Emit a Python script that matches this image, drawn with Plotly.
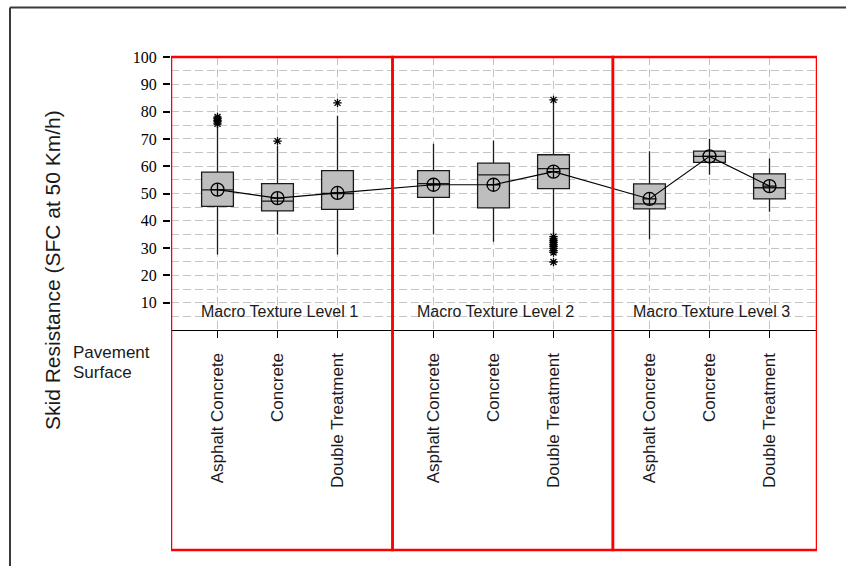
import plotly.graph_objects as go

# ---- data -------------------------------------------------------------
groups = ["Macro Texture Level 1", "Macro Texture Level 2", "Macro Texture Level 3"]
surfaces = ["Asphalt Concrete", "Concrete", "Double Treatment"]

q1 = [45.3, 43.6, 44.2, 48.6, 44.7, 51.8, 44.4, 61.4, 48.0]
median = [51.3, 47.2, 50.0, 53.6, 56.8, 59.1, 46.2, 63.6, 52.1]
q3 = [57.8, 53.6, 58.4, 58.4, 61.1, 64.2, 53.5, 65.5, 57.2]
lower_whisker = [27.7, 35.0, 27.7, 35.0, 32.3, 35.2, 33.2, 56.9, 43.3]
upper_whisker = [74.8, 67.5, 78.5, 68.2, 69.4, 83.6, 65.5, 70.1, 62.8]
means = [51.4, 48.3, 50.2, 53.2, 53.2, 58.0, 48.0, 63.6, 52.7]
outliers = [
    [75.5, 76.2, 76.8, 77.4, 78.0],
    [69.2],
    [83.2],
    [],
    [],
    [84.3, 34.2, 33.4, 32.7, 32.0, 31.3, 30.6, 29.9, 29.1, 28.4, 24.9],
    [],
    [],
    [],
]

y_ticks = [10, 20, 30, 40, 50, 60, 70, 80, 90, 100]
y_minor = [5, 15, 25, 35, 45, 55, 65, 75, 85, 95]

# ---- layout geometry ----------------------------------------------------
W, H = 846, 566
ML, MR, MT, MB = 171, 29, 57, 236
PW, PH = W - ML - MR, H - MT - MB
GROUP_STEP = 3.6
X_RANGE = [-0.775, -0.775 + PW / 60.0]
group_edges = [X_RANGE[0], 2.917, 6.59, X_RANGE[1]]

positions = [g * GROUP_STEP + i for g in range(len(groups)) for i in range(len(surfaces))]
labels = [s for _ in groups for s in surfaces]


def px_x(p):
    return (p - ML) / PW


def px_y(p):
    return (H - MB - p) / PH


fig = go.Figure()

BOX_FILL = "#bebebe"
for k, x in enumerate(positions):
    fig.add_trace(go.Box(
        x=[x], q1=[q1[k]], median=[median[k]], q3=[q3[k]],
        lowerfence=[lower_whisker[k]], upperfence=[upper_whisker[k]],
        boxpoints=False, width=0.53, whiskerwidth=0,
        fillcolor=BOX_FILL, line=dict(color="#1a1a1a", width=1.3),
        showlegend=False, hoverinfo="skip",
    ))
    if outliers[k]:
        fig.add_trace(go.Scatter(
            x=[x] * len(outliers[k]), y=outliers[k], mode="markers",
            marker=dict(symbol="asterisk-open", size=7, color="black",
                        line=dict(color="black", width=1.3)),
            showlegend=False, hoverinfo="skip",
        ))

# connected means
fig.add_trace(go.Scatter(
    x=positions, y=means, mode="lines+markers",
    line=dict(color="black", width=1.2),
    marker=dict(symbol="circle-cross-open", size=13,
                line=dict(color="black", width=1.3), color="black"),
    showlegend=False, hoverinfo="skip",
))

shapes = []
# red panels around each texture level
for g in range(len(groups)):
    shapes.append(dict(type="rect", xref="x", yref="paper",
                       x0=group_edges[g], x1=group_edges[g + 1],
                       y0=px_y(550), y1=1.0,
                       line=dict(color="#ff0000", width=2.5), layer="above"))
# outer frame (left and top edges)
shapes.append(dict(type="line", xref="paper", yref="paper",
                   x0=px_x(10), x1=px_x(10), y0=px_y(H), y1=px_y(7.5),
                   line=dict(color="#3a3a3a", width=2)))
shapes.append(dict(type="line", xref="paper", yref="paper",
                   x0=px_x(10), x1=px_x(W), y0=px_y(7.5), y1=px_y(7.5),
                   line=dict(color="#3a3a3a", width=2)))

annotations = []
for g, name in enumerate(groups):
    annotations.append(dict(
        x=positions[g * 3 + 1] + 0.04, y=6.9, xref="x", yref="y",
        text=name, showarrow=False, xanchor="center", yanchor="middle",
        font=dict(family="Liberation Sans, Arial", size=16, color="#1a1a1a"),
    ))
annotations.append(dict(
    x=px_x(52), y=px_y(270), xref="paper", yref="paper",
    text="Skid Resistance (SFC at 50 Km/h)", textangle=-90, showarrow=False,
    xanchor="center", yanchor="middle",
    font=dict(family="Liberation Sans, Arial", size=21, color="#1a1a1a"),
))
annotations.append(dict(
    x=px_x(71), y=px_y(352), xref="paper", yref="paper",
    text="Pavement", showarrow=False, xanchor="left", yanchor="middle",
    font=dict(family="Liberation Sans, Arial", size=17, color="#1a1a1a"),
))
annotations.append(dict(
    x=px_x(71), y=px_y(372), xref="paper", yref="paper",
    text="Surface", showarrow=False, xanchor="left", yanchor="middle",
    font=dict(family="Liberation Sans, Arial", size=17, color="#1a1a1a"),
))

GRID = "#c4c4c4"
fig.update_layout(
    width=W, height=H,
    margin=dict(l=ML, r=MR, t=MT, b=MB, pad=0),
    paper_bgcolor="white", plot_bgcolor="white",
    shapes=shapes, annotations=annotations,
    xaxis=dict(
        range=X_RANGE, tickvals=positions, ticktext=labels,
        tickangle=-90, ticks="outside", ticklen=7, tickwidth=1.3,
        tickcolor="black", ticklabelstandoff=8,
        tickfont=dict(family="Liberation Sans, Arial", size=17, color="#1a1a1a"),
        showgrid=True, gridcolor=GRID, gridwidth=1, griddash="8px,4px",
        showline=True, linecolor="black", linewidth=1.3,
        zeroline=False, fixedrange=True,
    ),
    yaxis=dict(
        range=[0, 100], tickvals=y_ticks,
        ticks="outside", ticklen=7, tickwidth=1.5, tickcolor="black",
        ticklabelstandoff=3,
        tickfont=dict(family="Liberation Serif, Times New Roman", size=16, color="black"),
        showgrid=True, gridcolor=GRID, gridwidth=1, griddash="8px,4px",
        minor=dict(tickvals=y_minor, showgrid=True, gridcolor=GRID,
                   gridwidth=1, griddash="8px,4px", ticks=""),
        showline=False, zeroline=False, fixedrange=True,
    ),
)

fig.write_html("out.html")
